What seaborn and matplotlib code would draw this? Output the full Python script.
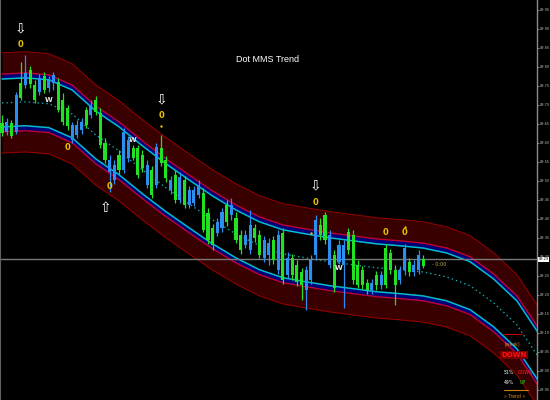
import numpy as np
import matplotlib
matplotlib.use("Agg")
import matplotlib.pyplot as plt
import seaborn as sns

# --- price bars (one per period) ---
bar_open = [9.626, 9.655, 9.618, 9.726, 9.718, 9.784, 9.755, 9.713, 9.771, 9.739,
            9.765, 9.779, 9.686, 9.655, 9.644, 9.647, 9.647, 9.655, 9.647, 9.700,
            9.681, 9.594, 9.555, 9.555, 9.542, 9.529, 9.629, 9.608, 9.560, 9.515,
            9.534, 9.542, 9.463, 9.589, 9.547, 9.508, 9.502, 9.450, 9.510, 9.436,
            9.476, 9.476, 9.489, 9.371, 9.344, 9.331, 9.392, 9.418, 9.392, 9.436,
            9.344, 9.318, 9.358, 9.384, 9.350, 9.305, 9.344, 9.336, 9.292, 9.358,
            9.239, 9.297, 9.252, 9.234, 9.226, 9.265, 9.292, 9.397, 9.358, 9.344,
            9.358, 9.218, 9.331, 9.331, 9.318, 9.239, 9.226, 9.226, 9.213, 9.231,
            9.226, 9.252, 9.226, 9.265, 9.226, 9.265, 9.323, 9.260, 9.279, 9.305,
            9.276]
bar_close = [9.652, 9.629, 9.652, 9.629, 9.758, 9.752, 9.792, 9.752, 9.734, 9.776,
             9.744, 9.758, 9.760, 9.713, 9.692, 9.608, 9.621, 9.634, 9.686, 9.673,
             9.713, 9.679, 9.600, 9.523, 9.502, 9.568, 9.529, 9.560, 9.587, 9.587,
             9.568, 9.489, 9.529, 9.489, 9.587, 9.555, 9.476, 9.515, 9.450, 9.502,
             9.436, 9.442, 9.463, 9.468, 9.415, 9.376, 9.363, 9.376, 9.436, 9.410,
             9.402, 9.358, 9.331, 9.318, 9.376, 9.358, 9.297, 9.305, 9.344, 9.265,
             9.363, 9.252, 9.297, 9.279, 9.260, 9.213, 9.239, 9.305, 9.384, 9.410,
             9.279, 9.305, 9.286, 9.279, 9.365, 9.358, 9.279, 9.265, 9.231, 9.213,
             9.252, 9.226, 9.323, 9.310, 9.265, 9.239, 9.265, 9.286, 9.260, 9.265,
             9.294]
bar_high = [9.673, 9.665, 9.660, 9.734, 9.813, 9.831, 9.802, 9.765, 9.781, 9.787,
            9.776, 9.787, 9.771, 9.731, 9.700, 9.655, 9.660, 9.665, 9.694, 9.713,
            9.723, 9.692, 9.613, 9.568, 9.555, 9.581, 9.639, 9.618, 9.594, 9.594,
            9.581, 9.555, 9.539, 9.600, 9.621, 9.565, 9.513, 9.529, 9.523, 9.513,
            9.486, 9.486, 9.502, 9.481, 9.429, 9.386, 9.402, 9.429, 9.450, 9.455,
            9.418, 9.371, 9.371, 9.423, 9.386, 9.371, 9.355, 9.350, 9.355, 9.371,
            9.376, 9.313, 9.307, 9.292, 9.271, 9.276, 9.305, 9.410, 9.402, 9.418,
            9.371, 9.318, 9.344, 9.344, 9.376, 9.371, 9.292, 9.276, 9.242, 9.242,
            9.263, 9.263, 9.334, 9.321, 9.279, 9.276, 9.334, 9.297, 9.292, 9.318,
            9.305]
bar_low = [9.618, 9.621, 9.613, 9.623, 9.713, 9.744, 9.744, 9.705, 9.726, 9.731,
           9.734, 9.739, 9.681, 9.647, 9.634, 9.600, 9.613, 9.623, 9.639, 9.665,
           9.673, 9.587, 9.547, 9.471, 9.492, 9.518, 9.521, 9.550, 9.555, 9.508,
           9.523, 9.481, 9.455, 9.481, 9.539, 9.497, 9.465, 9.442, 9.442, 9.429,
           9.429, 9.434, 9.455, 9.365, 9.334, 9.318, 9.355, 9.365, 9.381, 9.397,
           9.336, 9.307, 9.323, 9.307, 9.339, 9.297, 9.286, 9.279, 9.281, 9.255,
           9.229, 9.244, 9.239, 9.223, 9.186, 9.160, 9.229, 9.292, 9.344, 9.334,
           9.271, 9.207, 9.281, 9.165, 9.307, 9.229, 9.218, 9.215, 9.202, 9.202,
           9.213, 9.215, 9.218, 9.255, 9.173, 9.229, 9.252, 9.250, 9.250, 9.255,
           9.271]

# --- regression channel (centre line, every 5 bars, extends past last bar) ---
band_idx = list(range(0, 116, 5))
band_mid = [9.705, 9.708, 9.703, 9.676, 9.621, 9.579, 9.529, 9.482, 9.439, 9.397,
            9.360, 9.329, 9.308, 9.297, 9.287, 9.279, 9.271, 9.266, 9.260, 9.247,
            9.224, 9.179, 9.121, 9.029]
w_inner, w_red, w_outer = 0.063, 0.076, 0.132

# --- signals ---
arrow_dn_idx, arrow_dn_y = [4, 34, 67], [9.902, 9.713, 9.489]
arrow_up_idx, arrow_up_y = [22], [9.429]
sig_idx = [4, 34, 67, 14, 23, 82, 86]
sig_y = [9.858, 9.673, 9.442, 9.587, 9.484, 9.365, 9.365]
dot_idx, dot_y = [34, 66, 86], [9.644, 9.363, 9.379]
w_idx, w_y = [10, 28, 72], [9.713, 9.608, 9.271]

yticks = [9.95 - 0.05 * k for k in range(21)]

sns.set_style("dark", rc={"axes.facecolor": "black", "figure.facecolor": "black",
                          "axes.edgecolor": "#808080", "grid.color": "black"})
plt.rcParams["font.family"] = ["DejaVu Sans"]

fig = plt.figure(figsize=(5.5, 4), dpi=100)
ax = fig.add_axes([0.0, 0.0, 537 / 550, 1.0])

x = np.array(band_idx, dtype=float)
mid = np.array(band_mid)

# channel fills
ax.fill_between(x, mid + w_red, mid + w_outer, color="#380000", lw=0, zorder=1)
ax.fill_between(x, mid - w_outer, mid - w_red, color="#380000", lw=0, zorder=1)
ax.fill_between(x, mid + w_inner, mid + w_red, color="#000078", lw=0, zorder=1)
ax.fill_between(x, mid - w_red, mid - w_inner, color="#000078", lw=0, zorder=1)

for off, col, lw in [(w_outer, "#9a0000", 0.7), (w_red, "#c00030", 1.0), (w_inner, "#00bcd0", 1.1)]:
    sns.lineplot(x=x, y=mid + off, ax=ax, color=col, lw=lw, zorder=2)
    sns.lineplot(x=x, y=mid - off, ax=ax, color=col, lw=lw, zorder=2)
ax.plot(x, mid, color="#14a8a8", lw=1.0, ls=(0, (1, 2.2)), zorder=2)

# candles
o = np.array(bar_open); c = np.array(bar_close)
idx = np.arange(len(o))
cols = np.where(c >= o, "#22e022", "#2a8ff0")
ax.vlines(idx, bar_low, bar_high, colors=cols, lw=0.9, zorder=3)
ax.bar(idx, c - o, bottom=o, width=0.66, color=cols, lw=0, zorder=4)

# current price line
cur = bar_close[-1]
ax.axhline(cur, color="#7a7a7a", lw=1.0, zorder=2.5)

# signals
for i, yv in zip(arrow_dn_idx, arrow_dn_y):
    ax.text(i, yv, "\u21e9", color="white", fontsize=10, ha="center", va="center", zorder=5)
for i, yv in zip(arrow_up_idx, arrow_up_y):
    ax.text(i, yv, "\u21e7", color="white", fontsize=10, ha="center", va="center", zorder=5)
for i, yv in zip(sig_idx, sig_y):
    ax.text(i, yv, "0", color="#e8c000", fontsize=6, fontweight="bold", ha="center", va="center", zorder=5)
for i, yv in zip(w_idx, w_y):
    ax.text(i, yv, "W", color="#e8e8e8", fontsize=5, fontweight="bold", ha="center", va="center", zorder=5)
sns.scatterplot(x=dot_idx, y=dot_y, ax=ax, color="#e8c000", s=3, linewidth=0, zorder=5)

ax.text(len(o) + 0.8, 9.279, "- 0:00", color="#c8b040", fontsize=3.5, ha="left", va="center", zorder=5)

# title
ax.text(0.499, 0.85, "Dot MMS Trend", transform=ax.transAxes, color="white",
        fontsize=6.5, ha="center", va="center", family=["Liberation Sans Narrow", "Liberation Sans"])

# trend panel (bottom right)
def px(xp, yp):
    return xp / 537, 1 - yp / 400

ax.plot(*zip(px(503, 334), px(522, 334)), transform=ax.transAxes, color="#c00000", lw=0.8, zorder=6)
ax.text(*px(512, 344), "[weak]", transform=ax.transAxes, color="#e09020", fontsize=3.3, ha="center", va="center", zorder=6)
ax.text(*px(514, 355), "DOWN", transform=ax.transAxes, color="#ff1010", fontsize=5, fontweight="bold",
        ha="center", va="center", zorder=6, bbox=dict(fc="#7a0000", ec="none", pad=0.6))
ax.text(*px(504, 373), "51%", transform=ax.transAxes, color="white", fontsize=3.3, ha="left", va="center", zorder=6)
ax.text(*px(517, 373), "DOWN", transform=ax.transAxes, color="#ff2020", fontsize=3.3, ha="left", va="center", zorder=6)
ax.text(*px(504, 383), "49%", transform=ax.transAxes, color="white", fontsize=3.3, ha="left", va="center", zorder=6)
ax.text(*px(520, 383), "UP", transform=ax.transAxes, color="#20e020", fontsize=3.3, ha="left", va="center", zorder=6)
ax.plot(*zip(px(504, 390), px(528, 390)), transform=ax.transAxes, color="#d08010", lw=0.8, zorder=6)
ax.text(*px(515, 396), "\u00bb Trend \u00ab", transform=ax.transAxes, color="#e08a10", fontsize=3.3,
        ha="center", va="center", zorder=6)

# axes
ax.set_xlim(-0.43, 114.3)
ax.set_ylim(8.923, 9.976)
ax.set_xticks([])
ax.yaxis.tick_right()
ax.set_yticks(yticks)
ax.set_yticklabels([f"{v:05.2f}" for v in yticks])
ax.tick_params(axis="y", colors="#bdbdbd", labelsize=2.5, length=1.5, width=0.5, pad=0.8, right=True)
ax.grid(False)
for s in ["top", "bottom"]:
    ax.spines[s].set_visible(False)
ax.spines["left"].set_color("#606060")
ax.spines["right"].set_color("#8a8a8a")
ax.spines["left"].set_linewidth(1.5)
ax.spines["right"].set_linewidth(1.0)

ax.text(1.003, cur, f"{cur:05.2f}", transform=ax.get_yaxis_transform(), color="black", fontsize=2.5,
        ha="left", va="center", clip_on=False, zorder=7, bbox=dict(fc="white", ec="none", pad=0.4))

fig.savefig("out.png", dpi=100, facecolor="black")
